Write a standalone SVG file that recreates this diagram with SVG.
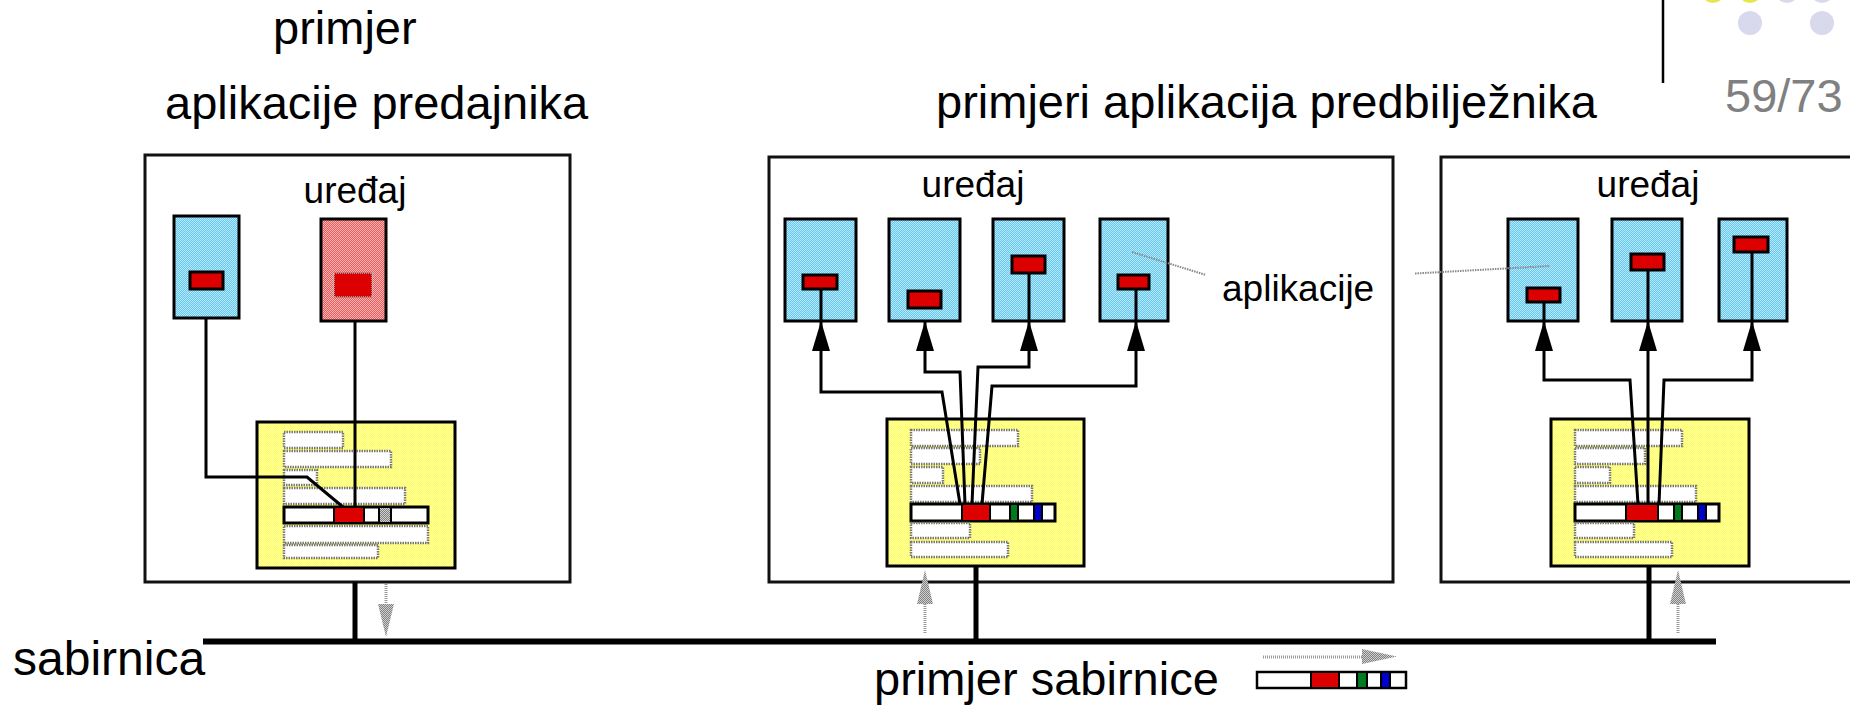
<svg xmlns="http://www.w3.org/2000/svg" width="1850" height="712" viewBox="0 0 1850 712">
<defs>
<pattern id="pBlue" width="2" height="2" patternUnits="userSpaceOnUse"><rect width="2" height="2" fill="#5fc8f2"/><rect width="1" height="1" fill="#bde9fb"/><rect x="1" y="1" width="1" height="1" fill="#bde9fb"/></pattern>
<pattern id="pYellow" width="2" height="2" patternUnits="userSpaceOnUse"><rect width="2" height="2" fill="#ffff50"/><rect width="1" height="1" fill="#ffffb8"/><rect x="1" y="1" width="1" height="1" fill="#ffffb8"/></pattern>
<pattern id="pPink" width="2" height="2" patternUnits="userSpaceOnUse"><rect width="2" height="2" fill="#ec5a5a"/><rect width="1" height="1" fill="#f8b4b4"/><rect x="1" y="1" width="1" height="1" fill="#f8b4b4"/></pattern>
<pattern id="pGray" width="2" height="2" patternUnits="userSpaceOnUse"><rect width="2" height="2" fill="#808080"/><rect width="1" height="1" fill="#d0d0d0"/><rect x="1" y="1" width="1" height="1" fill="#d0d0d0"/></pattern>
<path id="ah" d="M0,0 L-9,30 L9,30 Z" fill="#000"/>
<path id="gup" d="M0,0 L-8,34 L8,34 Z" fill="url(#pGray)"/>
</defs>
<style>
text{font-family:"Liberation Sans",Arial,sans-serif;fill:#000}
.big{font-size:47px}
.mid{font-size:37px}
.dev{fill:#fff;stroke:#111;stroke-width:3}
.app{fill:url(#pBlue);stroke:#000;stroke-width:3}
.snd{fill:url(#pPink);stroke:#000;stroke-width:3}
.msg{fill:#dd0000;stroke:#000;stroke-width:3}
.msg2{fill:#dd0000;stroke:#999;stroke-width:2;stroke-dasharray:1 1}
.buf{fill:url(#pYellow);stroke:#000;stroke-width:3}
.row{fill:#fff;stroke:#777;stroke-width:2.5;stroke-dasharray:1.5 1}
.bar{fill:#fff;stroke:#000;stroke-width:3}
.seg{stroke:#000;stroke-width:2}
.ln{fill:none;stroke:#000;stroke-width:3}
.stub{stroke:#000;stroke-width:5}
.gshaft{stroke:#999;stroke-width:3;stroke-dasharray:1 1;fill:none}
.ptr{stroke:#888;stroke-width:2;stroke-dasharray:1.5 1;fill:none}
</style>
<rect width="1850" height="712" fill="#fff"/>

<g id="header">
<circle cx="1713" cy="-9" r="12" fill="#e6e64d"/>
<circle cx="1750" cy="-9" r="12" fill="#e6e64d"/>
<circle cx="1787" cy="-9" r="12" fill="#d9d9ee"/>
<circle cx="1822" cy="-9" r="12" fill="#d9d9ee"/>
<circle cx="1750" cy="23" r="12" fill="#d9d9ee"/>
<circle cx="1822" cy="23" r="12" fill="#d9d9ee"/>
<line x1="1663" y1="0" x2="1663" y2="83" stroke="#000" stroke-width="2.5"/>
<text x="1725" y="112" class="big" style="fill:#808080">59/73</text>
</g>

<g id="titles">
<text x="273" y="44" class="big">primjer</text>
<text x="165" y="119" class="big">aplikacije predajnika</text>
<text x="936" y="118" class="big">primjeri aplikacija predbilježnika</text>
</g>

<g id="device-sender">
<rect x="145" y="155" width="425" height="427" class="dev"/>
<text x="355" y="203" class="mid" text-anchor="middle">uređaj</text>
<rect x="174" y="216" width="65" height="102" class="app"/>
<rect x="190" y="272" width="33" height="17" class="msg"/>
<rect x="321" y="219" width="65" height="102" class="snd"/>
<rect x="334" y="273" width="38" height="24" class="msg2"/>
<rect x="257" y="422" width="198" height="146" class="buf"/>
<rect x="284" y="432" width="59" height="16" class="row"/>
<rect x="284" y="451" width="107" height="16" class="row"/>
<rect x="284" y="470" width="33" height="15" class="row"/>
<rect x="284" y="488" width="121" height="16" class="row"/>
<rect x="284" y="507" width="144" height="16" class="bar"/>
<rect x="334" y="507" width="30" height="16" class="seg" fill="#dd0000"/>
<rect x="379" y="507" width="12" height="16" class="seg" fill="url(#pGray)"/>
<rect x="284" y="526" width="144" height="17" class="row"/>
<rect x="284" y="545" width="94" height="13" class="row"/>
</g>

<g id="device-receiver-1">
<rect x="769" y="157" width="624" height="425" class="dev"/>
<text x="973" y="197" class="mid" text-anchor="middle">uređaj</text>
<rect x="785" y="219" width="71" height="102" class="app"/>
<rect x="803" y="275" width="34" height="14" class="msg"/>
<rect x="889" y="219" width="71" height="102" class="app"/>
<rect x="908" y="291" width="33" height="17" class="msg"/>
<rect x="993" y="219" width="71" height="102" class="app"/>
<rect x="1012" y="256" width="33" height="17" class="msg"/>
<rect x="1100" y="219" width="68" height="102" class="app"/>
<rect x="1118" y="275" width="31" height="14" class="msg"/>
<rect x="887" y="419" width="197" height="147" class="buf"/>
<rect x="911" y="430" width="107" height="16" class="row"/>
<rect x="911" y="448" width="69" height="16" class="row"/>
<rect x="911" y="467" width="32" height="16" class="row"/>
<rect x="911" y="486" width="121" height="16" class="row"/>
<rect x="911" y="504" width="144" height="17" class="bar"/>
<rect x="962" y="504" width="28" height="17" class="seg" fill="#dd0000"/>
<rect x="1010" y="504" width="8" height="17" class="seg" fill="#007a1f"/>
<rect x="1034" y="504" width="8" height="17" class="seg" fill="#0000cc"/>
<rect x="911" y="523" width="59" height="15" class="row"/>
<rect x="911" y="542" width="97" height="15" class="row"/>
</g>

<g id="device-receiver-2">
<rect x="1441" y="157" width="420" height="425" class="dev"/>
<text x="1648" y="197" class="mid" text-anchor="middle">uređaj</text>
<rect x="1508" y="219" width="70" height="102" class="app"/>
<rect x="1527" y="288" width="33" height="14" class="msg"/>
<rect x="1612" y="219" width="70" height="102" class="app"/>
<rect x="1631" y="254" width="33" height="16" class="msg"/>
<rect x="1719" y="219" width="68" height="102" class="app"/>
<rect x="1734" y="237" width="34" height="15" class="msg"/>
<rect x="1551" y="419" width="198" height="147" class="buf"/>
<rect x="1575" y="430" width="107" height="16" class="row"/>
<rect x="1575" y="448" width="70" height="16" class="row"/>
<rect x="1575" y="467" width="35" height="16" class="row"/>
<rect x="1575" y="486" width="121" height="16" class="row"/>
<rect x="1575" y="504" width="144" height="17" class="bar"/>
<rect x="1626" y="504" width="32" height="17" class="seg" fill="#dd0000"/>
<rect x="1674" y="504" width="8" height="17" class="seg" fill="#007a1f"/>
<rect x="1698" y="504" width="8" height="17" class="seg" fill="#0000cc"/>
<rect x="1575" y="523" width="59" height="15" class="row"/>
<rect x="1575" y="542" width="97" height="15" class="row"/>
</g>

<g id="label-aplikacije">
<text x="1222" y="301" class="mid">aplikacije</text>
<path d="M1132,252 L1206,275" class="ptr"/>
<path d="M1415,273.5 L1550,266" class="ptr"/>
</g>

<g id="bus">
<line x1="203" y1="641.5" x2="1716" y2="641.5" stroke="#000" stroke-width="6"/>
<text x="13" y="675" class="big" style="font-size:48px">sabirnica</text>
<text x="874" y="695" class="big">primjer sabirnice</text>
<line x1="1263" y1="657" x2="1364" y2="657" class="gshaft"/>
<path d="M1362,649 L1397,656.5 L1362,664 Z" fill="url(#pGray)"/>
<rect x="1257" y="672" width="149" height="16" class="bar" style="stroke-width:2.5"/>
<rect x="1311" y="672" width="28" height="16" class="seg" fill="#dd0000"/>
<rect x="1357" y="672" width="10" height="16" class="seg" fill="#007a1f"/>
<rect x="1381" y="672" width="9" height="16" class="seg" fill="#0000cc"/>
</g>

<g id="connectors">
<path d="M206,318 L206,477 L307,477 L343,507" class="ln"/>
<path d="M355,321 L355,507" class="ln"/>
<path d="M960,504 L942,392 L821,392 L821,289" class="ln"/>
<path d="M965,504 L960,372 L925,372 L925,322" class="ln"/>
<path d="M972,504 L978,367 L1029,367 L1029,273" class="ln"/>
<path d="M982,504 L992,386 L1136,386 L1136,289" class="ln"/>
<use href="#ah" x="821" y="321"/>
<use href="#ah" x="925" y="321"/>
<use href="#ah" x="1029" y="321"/>
<use href="#ah" x="1136" y="321"/>
<path d="M1638,504 L1630,380 L1544,380 L1544,302" class="ln"/>
<path d="M1648,504 L1648,270" class="ln"/>
<path d="M1659,504 L1664,380 L1752,380 L1752,252" class="ln"/>
<use href="#ah" x="1544" y="321"/>
<use href="#ah" x="1648" y="321"/>
<use href="#ah" x="1752" y="321"/>
<line x1="355" y1="582" x2="355" y2="639" class="stub"/>
<line x1="976" y1="566" x2="976" y2="639" class="stub"/>
<line x1="1649" y1="566" x2="1649" y2="639" class="stub"/>
<line x1="386" y1="584" x2="386" y2="606" class="gshaft"/>
<path d="M378,604 L394,604 L386,637 Z" fill="url(#pGray)"/>
<line x1="925" y1="602" x2="925" y2="634" class="gshaft"/>
<use href="#gup" x="925" y="570"/>
<line x1="1678" y1="602" x2="1678" y2="634" class="gshaft"/>
<use href="#gup" x="1678" y="570"/>
</g>
</svg>
